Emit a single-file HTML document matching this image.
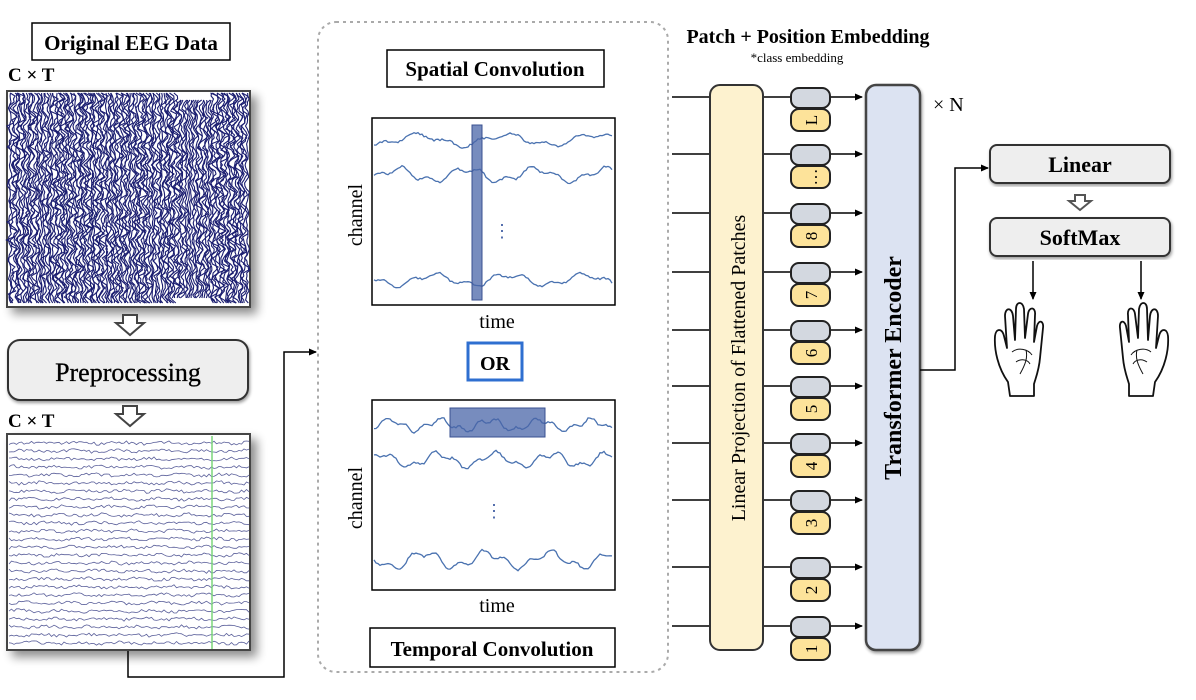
<!DOCTYPE html>
<html><head><meta charset="utf-8"><style>
html,body{margin:0;padding:0;background:#fff;}
svg{display:block;font-family:"Liberation Serif",serif;}
.b{font-weight:bold;}
</style></head><body>
<svg id="s" width="1196" height="700" viewBox="0 0 1196 700" xmlns="http://www.w3.org/2000/svg">
<defs>
<marker id="ar" markerWidth="8" markerHeight="8" refX="7" refY="4" orient="auto" markerUnits="userSpaceOnUse"><path d="M0,0.5 L8,4 L0,7.5 z" fill="#000"/></marker>
<filter id="sh" x="-10%" y="-10%" width="130%" height="130%"><feGaussianBlur in="SourceAlpha" stdDeviation="5"/><feOffset dx="6" dy="6"/><feComponentTransfer><feFuncA type="linear" slope="0.45"/></feComponentTransfer><feMerge><feMergeNode/><feMergeNode in="SourceGraphic"/></feMerge></filter>
<filter id="sh2"><feGaussianBlur in="SourceAlpha" stdDeviation="1.5"/><feOffset dx="1" dy="2"/><feComponentTransfer><feFuncA type="linear" slope="0.4"/></feComponentTransfer><feMerge><feMergeNode/><feMergeNode in="SourceGraphic"/></feMerge></filter>
</defs>

<rect x="32" y="23" width="198" height="37" fill="#fff" stroke="#000" stroke-width="1.5"/>
<text x="131" y="50" font-size="21" text-anchor="middle" class="b">Original EEG Data</text>
<text x="8" y="81" font-size="19" class="b">C × T</text>
<rect x="7" y="91" width="243" height="216" fill="#fff" stroke="#444" stroke-width="2" filter="url(#sh)"/>
<g id="eeg1"></g>
<path d="M123,315 h14 v8 h7 l-14,12 l-14,-12 h7 z" fill="#fff" stroke="#444" stroke-width="2"/>
<rect x="8" y="340" width="240" height="60" rx="12" fill="#eeeeee" stroke="#333" stroke-width="2" filter="url(#sh2)"/>
<text x="128" y="381" font-size="26" text-anchor="middle" stroke="#000" stroke-width="0.3">Preprocessing</text>
<path d="M123,406 h14 v8 h7 l-14,12 l-14,-12 h7 z" fill="#fff" stroke="#444" stroke-width="2"/>
<text x="8" y="427" font-size="19" class="b">C × T</text>
<rect x="7" y="434" width="243" height="216" fill="#fff" stroke="#444" stroke-width="2" filter="url(#sh)"/>
<g id="eeg2"></g>
<line x1="212" y1="436" x2="212" y2="649" stroke="#7bd67b" stroke-width="1.5"/>
<polyline points="128,651 128,677 284,677 284,352 316,352" fill="none" stroke="#000" stroke-width="1.5" marker-end="url(#ar)"/>

<rect x="318" y="22" width="350" height="650" rx="18" fill="none" stroke="#aaa" stroke-width="2" stroke-dasharray="3,4"/>
<rect x="387" y="50" width="217" height="37" fill="#fff" stroke="#000" stroke-width="1.5"/>
<text x="495" y="76" font-size="21" text-anchor="middle" class="b">Spatial Convolution</text>
<rect x="372" y="118" width="243" height="187" fill="#fff" stroke="#000" stroke-width="1.5"/>
<g id="p1"></g>
<rect x="472" y="125" width="10" height="175" fill="#4a66a8" fill-opacity="0.75" stroke="#3a5090"/>
<text x="502" y="237" font-size="18" fill="#4a66a8" text-anchor="middle">⋮</text>
<text transform="translate(362,215) rotate(-90)" font-size="20" text-anchor="middle">channel</text>
<text x="497" y="328" font-size="20" text-anchor="middle">time</text>
<rect x="468" y="343" width="54" height="37" fill="#fff" stroke="#2f6fd0" stroke-width="3"/>
<text x="495" y="370" font-size="20" text-anchor="middle" class="b">OR</text>
<rect x="372" y="400" width="243" height="190" fill="#fff" stroke="#000" stroke-width="1.5"/>
<g id="p2"></g>
<rect x="450" y="408" width="95" height="29" fill="#4a66a8" fill-opacity="0.75" stroke="#3a5090"/>
<text x="494" y="517" font-size="18" fill="#4a66a8" text-anchor="middle">⋮</text>
<text transform="translate(362,498) rotate(-90)" font-size="20" text-anchor="middle">channel</text>
<text x="497" y="612" font-size="20" text-anchor="middle">time</text>
<rect x="370" y="628" width="245" height="39" fill="#fff" stroke="#000" stroke-width="1.5"/>
<text x="492" y="656" font-size="21" text-anchor="middle" class="b">Temporal Convolution</text>

<text x="808" y="43" font-size="20" text-anchor="middle" class="b">Patch + Position Embedding</text>
<text x="797" y="62" font-size="13" text-anchor="middle">*class embedding</text>
<g id="rows"></g>
<rect x="710" y="85" width="53" height="565" rx="10" fill="#fdf2cf" stroke="#333" stroke-width="2"/>
<text transform="translate(745,368) rotate(-90)" font-size="20" text-anchor="middle">Linear Projection of Flattened Patches</text>
<rect x="866" y="85" width="54" height="565" rx="10" fill="#dce3f2" stroke="#444" stroke-width="2.5" filter="url(#sh2)"/>
<text transform="translate(901,368) rotate(-90)" font-size="24" text-anchor="middle" class="b">Transformer Encoder</text>
<text x="933" y="111" font-size="20">× N</text>
<polyline points="920,370 955,370 955,168 988,168" fill="none" stroke="#000" stroke-width="1.5" marker-end="url(#ar)"/>
<rect x="990" y="145" width="180" height="38" rx="7" fill="#eee" stroke="#333" stroke-width="2" filter="url(#sh2)"/>
<text x="1080" y="172" font-size="22" text-anchor="middle" class="b">Linear</text>
<path d="M1075,195 h10 v6 h6 l-11,9 l-11,-9 h6 z" fill="#fff" stroke="#555" stroke-width="2"/>
<rect x="990" y="218" width="180" height="38" rx="7" fill="#eee" stroke="#333" stroke-width="2" filter="url(#sh2)"/>
<text x="1080" y="245" font-size="22" text-anchor="middle" class="b">SoftMax</text>
<line x1="1033" y1="261" x2="1033" y2="299" stroke="#000" stroke-width="1.5" marker-end="url(#ar)"/>
<line x1="1141" y1="261" x2="1141" y2="299" stroke="#000" stroke-width="1.5" marker-end="url(#ar)"/>
<g fill="#fff" stroke="#111" stroke-width="1.8" stroke-linejoin="round">
<path d="M1008,382 C998,368 994,350 995,336 C996,328 1002,328 1004,336 L1007,348 L1005,316 C1005,307 1012,307 1013,316 L1015,340 L1016,309 C1016,301 1023,301 1024,309 L1025,338 L1028,314 C1029,306 1036,307 1035,315 L1034,342 L1037,326 C1039,319 1044,321 1043,328 L1040,358 C1039,370 1036,377 1034,384 L1034,396 L1010,396 Z"/>
<path d="M1012,352 C1018,347 1028,349 1032,355 M1020,374 C1025,365 1028,358 1026,350 M1016,362 C1022,358 1028,360 1030,364" fill="none" stroke-width="1"/>
</g>
<g transform="translate(2310,0) scale(-1,1)" fill="#fff" stroke="#111" stroke-width="1.8" stroke-linejoin="round">
<path d="M1155,382 C1145,368 1141,350 1142,336 C1143,328 1149,328 1151,336 L1154,348 L1152,316 C1152,307 1159,307 1160,316 L1162,340 L1163,309 C1163,301 1170,301 1171,309 L1172,338 L1175,314 C1176,306 1183,307 1182,315 L1181,342 L1184,326 C1186,319 1191,321 1190,328 L1187,358 C1186,370 1183,377 1181,384 L1181,396 L1157,396 Z"/>
<path d="M1159,352 C1165,347 1175,349 1179,355 M1167,374 C1172,365 1175,358 1173,350 M1163,362 C1169,358 1175,360 1177,364" fill="none" stroke-width="1"/>
</g>
</svg>
<script>
var NS="http://www.w3.org/2000/svg";
var seed=7;function r(){seed=(seed*16807)%2147483647;return seed/2147483647;}
function pl(g,pts,st,w){var p=document.createElementNS(NS,"polyline");p.setAttribute("points",pts.join(" "));p.setAttribute("fill","none");p.setAttribute("stroke",st);p.setAttribute("stroke-width",w);document.getElementById(g).appendChild(p);}
for(var x=10;x<248;x+=2.1){var pts=[];var a=2+r()*4;var ya=93, yb=305;if(x>175&&x<210){ya=100;yb=300;}for(var y=ya;y<=yb;y+=3){pts.push((x+(r()-0.5)*a+Math.sin(y/3)*a*0.5).toFixed(1)+","+y);}pl("eeg1",pts,"#1a1d70",1.1);}
for(var i=0;i<26;i++){var y0=443+i*8;var pts=[];for(var x=9;x<=249;x+=2.5){pts.push(x+","+(y0+(r()-0.5)*3+Math.sin(x/7+i)*0.8).toFixed(1));}pl("eeg2",pts,"#5a5f9a",0.8);}
function curve(g,x0,x1,y0,amp,f){var pts=[];for(var x=x0;x<=x1;x+=2){pts.push(x+","+(y0+Math.sin(x/f)*amp+Math.sin(x/(f*0.37))*amp*0.5+(r()-0.5)*2).toFixed(1));}pl(g,pts,"#4a72b0",1.3);}
curve("p1",374,613,140,5,14);curve("p1",374,613,175,6,11);curve("p1",374,613,280,5,12);
curve("p2",374,613,425,5,8);curve("p2",374,613,460,6,9);curve("p2",374,613,560,7,10);
var ys=[97,154,213,272,330,386,443,500,567,626];var lab=["L","…","8","7","6","5","4","3","2","1"];
var R=document.getElementById("rows");
ys.forEach(function(y,i){
 pl("rows",["672,"+y,"710,"+y],"#000",1.5);pl("rows",["763,"+y,"791,"+y],"#000",1.5);
 var l=document.createElementNS(NS,"line");l.setAttribute("x1",830);l.setAttribute("y1",y);l.setAttribute("x2",862);l.setAttribute("y2",y);l.setAttribute("stroke","#000");l.setAttribute("stroke-width",1.5);l.setAttribute("marker-end","url(#ar)");R.appendChild(l);
 var g=document.createElementNS(NS,"rect");g.setAttribute("x",791);g.setAttribute("y",y-9);g.setAttribute("width",39);g.setAttribute("height",20);g.setAttribute("rx",8);g.setAttribute("fill","#d3d8e0");g.setAttribute("stroke","#222");g.setAttribute("stroke-width",2);R.appendChild(g);
 var k=document.createElementNS(NS,"rect");k.setAttribute("x",791);k.setAttribute("y",y+12);k.setAttribute("width",39);k.setAttribute("height",22);k.setAttribute("rx",8);k.setAttribute("fill","#fde39a");k.setAttribute("stroke","#222");k.setAttribute("stroke-width",2);R.appendChild(k);
 var t=document.createElementNS(NS,"text");t.setAttribute("transform","translate(817,"+(y+23)+") rotate(-90)");t.setAttribute("font-size","17");t.setAttribute("text-anchor","middle");t.textContent=lab[i];R.appendChild(t);
});
</script>
</body></html>
